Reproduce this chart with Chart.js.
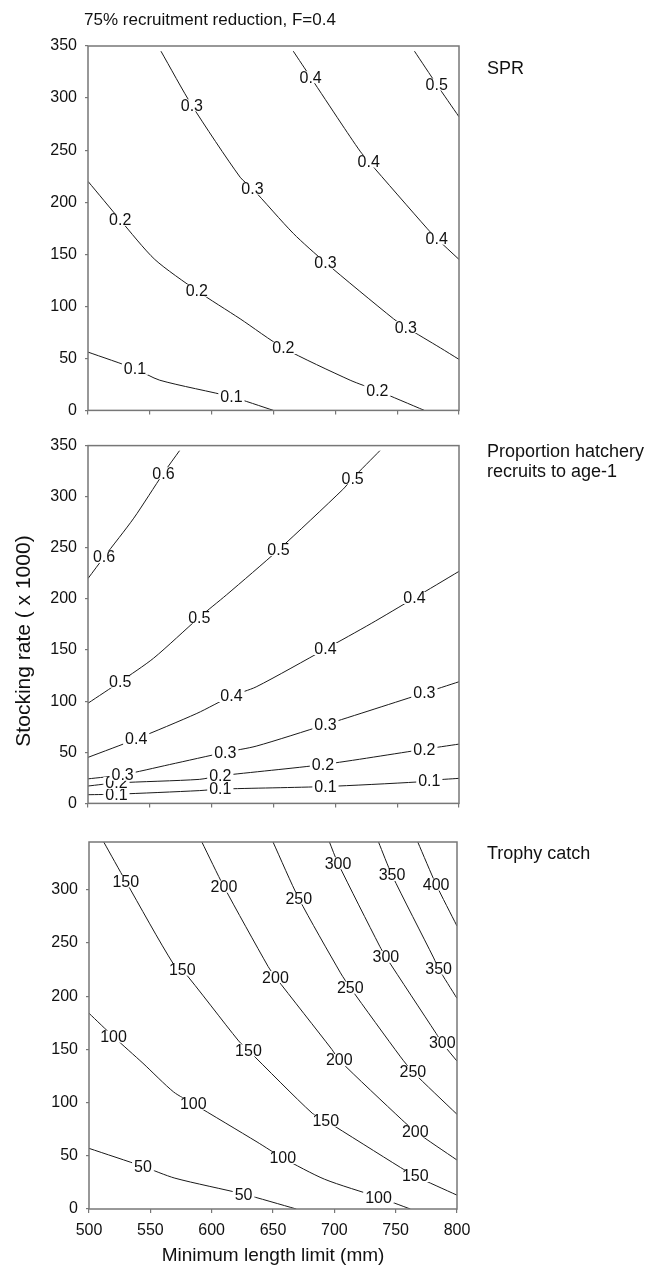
<!DOCTYPE html>
<html>
<head>
<meta charset="utf-8">
<script src="https://cdn.jsdelivr.net/npm/chart.js@4.4.1/dist/chart.umd.min.js"></script>
<style>
  html, body { margin: 0; padding: 0; background: #fff; overflow: hidden; }
  canvas { position: absolute; left: 0; }
</style>
</head>
<body>
<canvas id="sprChart" width="668" height="428" style="top:0px"></canvas>
<canvas id="hatcheryChart" width="668" height="393" style="top:428px"></canvas>
<canvas id="trophyChart" width="668" height="446" style="top:821px"></canvas>
<script>
// contour lines, points are [minimum length limit (mm), stocking rate (x1000)]
const spr01 = [[500,56],[538,40],[558,29],[616,13],[650,0]];
const spr02 = [[500,220],[526,183],[554,145],[588,115],[623,88],[658,60],[712,29],[734,19],[772,0]];
const spr03 = [[559,345],[584,293],[623,224],[633,213],[666,170],[692,142],[747,88],[757,80],[785,60],[800,49]];
const spr04 = [[666,345],[680,320],[704,277],[720,249],[727,239],[774,175],[782,165],[800,145]];
const spr05 = [[764,345],[782,313],[800,282]];
const sprLabels = [
  [538,40,'0.1'],[616,13,'0.1'],
  [526,183,'0.2'],[588,115,'0.2'],[658,60,'0.2'],[734,19,'0.2'],
  [584,293,'0.3'],[633,213,'0.3'],[692,142,'0.3'],[757,80,'0.3'],
  [680,320,'0.4'],[727,239,'0.4'],[782,165,'0.4'],
  [782,313,'0.5']
];

const hat01 = [[500,8.5],[523,9],[590,12.5],[607,14],[692,16.5],[767,21],[776,22.5],[800,24.5]];
const hat02 = [[500,17],[523,20],[590,23.5],[607,27],[690,38],[772,53],[800,58]];
const hat03 = [[500,24],[528,28],[566,38],[611,50],[636,56],[692,77],[772,108],[800,119]];
const hat04 = [[500,45],[539,63],[588,88],[616,105],[636,114],[692,151],[729,176],[764,201],[800,227]];
const hat05 = [[500,98],[526,119],[553,142],[590,182],[612,204],[654,248],[706,307],[714,318],[736,345]];
const hat06 = [[500,220],[513,241],[537,279],[561,323],[574,345]];
const hatLabels = [
  [523,9,'0.1'],[607,14,'0.1'],[692,16.5,'0.1'],[776,22.5,'0.1'],
  [523,20,'0.2'],[607,27,'0.2'],[690,38,'0.2'],[772,53,'0.2'],
  [528,28,'0.3'],[611,50,'0.3'],[692,77,'0.3'],[772,108,'0.3'],
  [539,63,'0.4'],[616,105,'0.4'],[692,151,'0.4'],[764,201,'0.4'],
  [526,119,'0.5'],[590,182,'0.5'],[654,248,'0.5'],[714,318,'0.5'],
  [513,241,'0.6'],[561,323,'0.6']
];

const tro050 = [[500,57],[544,40],[570,29],[626,14],[669,0]];
const tro100 = [[500,184],[520,162],[544,137],[569,110],[585,99],[637,63],[658,48],[692,28],[736,11],[762,0]];
const tro150 = [[512,345],[530,308],[569,230],[576,225],[622,158],[630,149],[682,90],[693,83],[754,39],[766,31],[800,13]];
const tro200 = [[592,345],[610,303],[646,228],[652,218],[698,150],[704,140],[755,84],[766,73],[800,46]];
const tro250 = [[650,345],[671,292],[705,222],[713,208],[754,143],[764,129],[800,89]];
const tro300 = [[696,345],[703,325],[737,247],[742,237],[783,165],[788,156],[800,139]];
const tro350 = [[736,345],[747,314],[781,236],[785,226],[800,198]];
const tro400 = [[768,345],[783,305],[800,266]];
const troLabels = [
  [544,40,'50'],[626,14,'50'],
  [520,162,'100'],[585,99,'100'],[658,48,'100'],[736,11,'100'],
  [530,308,'150'],[576,225,'150'],[630,149,'150'],[693,83,'150'],[766,31,'150'],
  [610,303,'200'],[652,218,'200'],[704,140,'200'],[766,73,'200'],
  [671,292,'250'],[713,208,'250'],[764,129,'250'],
  [703,325,'300'],[742,237,'300'],[788,156,'300'],
  [747,314,'350'],[785,226,'350'],
  [783,305,'400']
];

const FONT = '"Liberation Sans", Arial, Helvetica, sans-serif';
Chart.defaults.font.family = FONT;
Chart.defaults.color = '#111';

// white box + value on top of the line, gives the gap look
const contourLabels = {
  id: 'contourLabels',
  afterDatasetsDraw(chart, args, opts) {
    const {ctx, scales: {x, y}} = chart;
    ctx.save();
    ctx.font = '16px ' + FONT;
    ctx.textAlign = 'center';
    ctx.textBaseline = 'middle';
    (opts.items || []).forEach(([vx, vy, text]) => {
      const px = x.getPixelForValue(vx);
      const py = y.getPixelForValue(vy);
      const w = ctx.measureText(text).width;
      ctx.fillStyle = '#fff';
      ctx.fillRect(px - w / 2 - 2, py - 6, w + 4, 12);
      ctx.fillStyle = '#111';
      ctx.fillText(text, px, py + 1);
    });
    const a = chart.chartArea;
    ctx.strokeStyle = '#777';
    ctx.lineWidth = 1.5;
    ctx.strokeRect(a.left, a.top, a.right - a.left, a.bottom - a.top);
    ctx.restore();
  }
};

const freeText = {
  id: 'freeText',
  afterDraw(chart, args, opts) {
    const ctx = chart.ctx;
    ctx.save();
    ctx.fillStyle = '#111';
    ctx.textBaseline = 'middle';
    (opts.items || []).forEach(t => {
      ctx.save();
      ctx.font = t.size + 'px ' + FONT;
      ctx.textAlign = t.align || 'left';
      ctx.translate(t.x, t.y);
      if (t.rotate) ctx.rotate(t.rotate);
      ctx.fillText(t.text, 0, 0);
      ctx.restore();
    });
    ctx.restore();
  }
};

function lines(list) {
  return list.map(pts => ({
    data: pts.map(p => ({x: p[0], y: p[1]})),
    showLine: true,
    borderColor: '#1a1a1a',
    borderWidth: 1,
    pointRadius: 0,
    tension: 0.25,
    fill: false
  }));
}

function makeChart(id, cfg) {
  return new Chart(document.getElementById(id), {
    type: 'scatter',
    data: {datasets: lines(cfg.lines)},
    options: {
      responsive: false,
      animation: false,
      events: [],
      layout: {padding: {top: cfg.top, right: cfg.right, left: 0, bottom: 0}},
      plugins: {
        legend: {display: false},
        tooltip: {enabled: false},
        contourLabels: {items: cfg.labels},
        freeText: {items: cfg.texts}
      },
      scales: {
        x: {
          type: 'linear',
          min: lengthRange[0], max: lengthRange[1],
          border: {display: false},
          grid: {drawOnChartArea: false, drawTicks: true, tickLength: 4, color: '#777', lineWidth: 1.2},
          ticks: {display: cfg.xLabels, stepSize: 50, padding: 8, font: {size: 16}, maxRotation: 0},
          title: {display: cfg.xLabels, text: 'Minimum length limit (mm)', font: {size: 19}, padding: {top: 0, bottom: 0}},
          afterFit: s => { s.height = cfg.xHeight; }
        },
        y: {
          type: 'linear',
          min: 0, max: cfg.yMax,
          border: {display: false},
          grid: {drawOnChartArea: false, drawTicks: true, tickLength: 3, color: '#777', lineWidth: 1.2},
          ticks: {stepSize: 50, padding: 8, font: {size: 16}, includeBounds: false},
          afterFit: s => { s.width = cfg.yWidth; }
        }
      }
    },
    plugins: [contourLabels, freeText]
  });
}

const lengthRange = [500, 800];

makeChart('sprChart', {
  lines: [spr01, spr02, spr03, spr04, spr05],
  labels: sprLabels,
  top: 46, right: 209, yWidth: 88, xHeight: 11, yMax: 350, xLabels: false,
  texts: [
    {text: '75% recruitment reduction, F=0.4', x: 210, y: 20, size: 17, align: 'center'},
    {text: 'SPR', x: 487, y: 69, size: 18}
  ]
});

makeChart('hatcheryChart', {
  lines: [hat01, hat02, hat03, hat04, hat05, hat06],
  labels: hatLabels,
  top: 10, right: 209, yWidth: 88, xHeight: 11, yMax: 350, xLabels: false,
  texts: [
    {text: 'Proportion hatchery', x: 487, y: 24, size: 18},
    {text: 'recruits to age-1', x: 487, y: 44, size: 18},
    {text: 'Stocking rate ( x 1000)', x: 24, y: 213, size: 21, align: 'center', rotate: -Math.PI / 2}
  ]
});

makeChart('trophyChart', {
  lines: [tro050, tro100, tro150, tro200, tro250, tro300, tro350, tro400],
  labels: troLabels,
  top: 21, right: 211, yWidth: 89, xHeight: 58, yMax: 345, xLabels: true,
  texts: [
    {text: 'Trophy catch', x: 487, y: 33, size: 18}
  ]
});
</script>
</body>
</html>
